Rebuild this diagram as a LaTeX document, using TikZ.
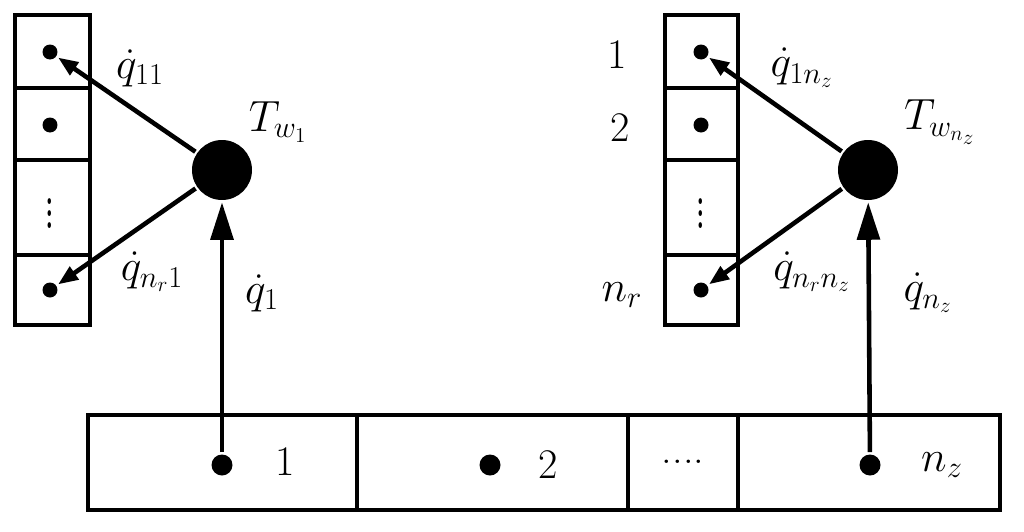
\documentclass[tikz,border=0pt]{standalone}
\usetikzlibrary{arrows.meta}
\begin{document}
\begin{tikzpicture}[x=0.02cm,y=-0.02cm,line width=2.6pt,
  dot/.style={circle,fill=black,inner sep=0pt,minimum size=0.42cm},
  big/.style={circle,fill=black,inner sep=0pt,minimum size=1.2cm},
  lab/.style={font=\fontsize{24}{28}\selectfont},
  vd/.style={font=\fontsize{24}{28}\selectfont,yscale=1.7},
  arr/.style={-{Triangle[length=0.75cm,width=0.45cm]}},
  sarr/.style={-{Triangle[length=0.4cm,width=0.3cm]}}]
\useasboundingbox (0,0) rectangle (1024,531);
% left column
\draw (15,15) rectangle (90,325);
\draw (15,88)--(90,88) (15,160)--(90,160) (15,255)--(90,255);
\node[dot,minimum size=0.3cm] (l1) at (50,52) {};
\node[dot,minimum size=0.3cm] (l2) at (50,125) {};
\node[vd] (l4) at (50,205) {$\vdots$};
\node[dot,minimum size=0.3cm] (l3) at (50,290) {};
% right column
\draw (665,15) rectangle (738,325);
\draw (665,88)--(738,88) (665,160)--(738,160) (665,255)--(738,255);
\node[dot,minimum size=0.3cm] (r1) at (701,52) {};
\node[dot,minimum size=0.3cm] (r2) at (701,125) {};
\node[vd] (r4) at (701,205) {$\vdots$};
\node[dot,minimum size=0.3cm] (r3) at (701,290) {};
\node[lab] (n1) at (617,55) {1};
\node[lab] (n2) at (620,128) {2};
\node[lab] (n3) at (622,295) {$n_r$};
% bottom
\draw (88,415) rectangle (1000,510);
\draw (357,415)--(357,510) (628,415)--(628,510) (738,415)--(738,510);
\node[dot] (b1) at (222,465) {};
\node[dot] (b2) at (490,465) {};
\node[dot] (b3) at (870,465) {};
\node[lab] (t1) at (285,462) {1};
\node[lab] (t2) at (548,465) {2};
\node[lab] (t3) at (683,462) {....};
\node[lab] (t4) at (942,465) {$n_z$};
% circles
\node[big] (c1) at (222,170) {};
\node[big] (c2) at (868,170) {};
\draw[arr] (b1) -- (c1);
\draw[arr] (b3) -- (c2);
\draw[sarr] (c1) -- (l1);
\draw[sarr] (c1) -- (l3);
\draw[sarr] (c2) -- (r1);
\draw[sarr] (c2) -- (r3);
\node[lab] (a1) at (140,68) {$\dot q_{11}$};
\node[lab] (a2) at (278,122) {$T_{w_1}$};
\node[lab] (a3) at (152,272) {$\dot q_{n_r1}$};
\node[lab] (a4) at (262,293) {$\dot q_{1}$};
\node[lab] (a5) at (802,68) {$\dot q_{1n_z}$};
\node[lab] (a6) at (940,122) {$T_{w_{n_z}}$};
\node[lab] (a7) at (812,272) {$\dot q_{n_rn_z}$};
\node[lab] (a8) at (928,293) {$\dot q_{n_z}$};
\end{tikzpicture}
\end{document}
